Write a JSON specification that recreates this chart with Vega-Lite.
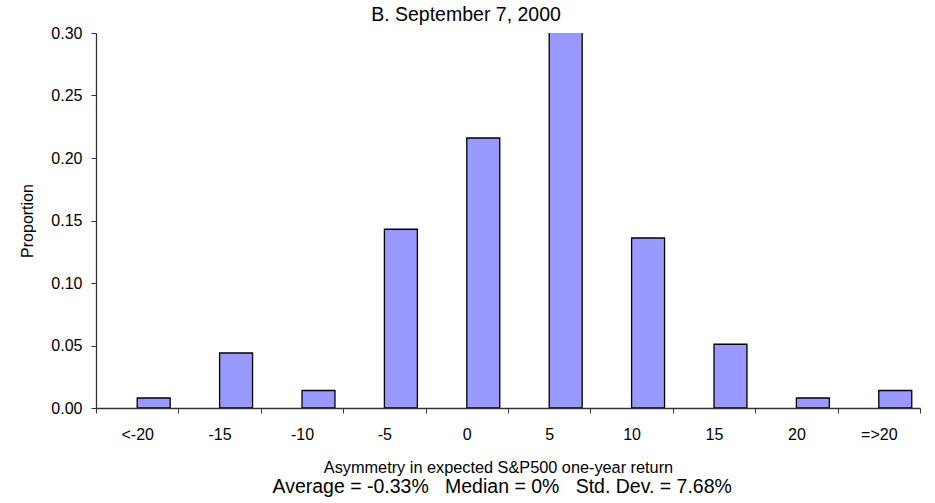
{
  "$schema": "https://vega.github.io/schema/vega-lite/v6.json",
  "background": "white",
  "padding": {"left": 19, "top": 4, "right": 10, "bottom": 4},
  "config": {
    "font": "Liberation Sans",
    "view": {"stroke": null},
    "concat": {"spacing": 0}
  },
  "title": {
    "text": "Average = -0.33%\u00a0\u00a0\u00a0Median = 0%\u00a0\u00a0\u00a0Std. Dev. = 7.68%",
    "orient": "bottom",
    "anchor": "middle",
    "fontSize": 19.5,
    "fontWeight": "normal",
    "font": "Liberation Sans",
    "color": "black",
    "dx": 32,
    "offset": 3
  },
  "vconcat": [
    {
      "width": 824,
      "height": 375,
      "title": {
        "text": "B. September 7, 2000",
        "anchor": "middle",
        "fontSize": 19.5,
        "fontWeight": "normal",
        "font": "Liberation Sans",
        "color": "black",
        "dx": -42,
        "offset": 0
      },
      "data": {
        "values": [
          {"bin": "<-20", "proportion": 0.008},
          {"bin": "-15", "proportion": 0.044},
          {"bin": "-10", "proportion": 0.014},
          {"bin": "-5", "proportion": 0.143},
          {"bin": "0", "proportion": 0.216},
          {"bin": "5", "proportion": 0.366},
          {"bin": "10", "proportion": 0.136},
          {"bin": "15", "proportion": 0.051},
          {"bin": "20", "proportion": 0.008},
          {"bin": "=>20", "proportion": 0.014}
        ]
      },
      "mark": {"type": "bar", "fill": "#9999FF", "stroke": "black", "strokeWidth": 1.3, "clip": true},
      "encoding": {
        "x": {
          "field": "bin",
          "type": "nominal",
          "sort": null,
          "scale": {"paddingInner": 0, "paddingOuter": 0},
          "axis": {
            "title": "Asymmetry in expected S&P500 one-year return",
            "titleFontSize": 16.3,
            "titleFontWeight": "normal",
            "titleColor": "black",
            "titlePadding": 17,
            "titleX": 402,
            "labelAngle": 0,
            "labelFontSize": 16,
            "labelColor": "black",
            "labelPadding": 13,
            "tickBand": "extent",
            "tickSize": 5,
            "tickColor": "#333333",
            "domainColor": "#333333",
            "domainWidth": 1.3
          }
        },
        "xOffset": {
          "datum": "b",
          "scale": {"domain": ["a", "b"], "paddingInner": 0, "paddingOuter": 0.25}
        },
        "y": {
          "field": "proportion",
          "type": "quantitative",
          "scale": {"domain": [0, 0.3], "nice": false},
          "axis": {
            "title": "Proportion",
            "titleFontSize": 16,
            "titleFontWeight": "normal",
            "titleColor": "black",
            "titlePadding": 15,
            "values": [0, 0.05, 0.1, 0.15, 0.2, 0.25, 0.3],
            "format": ".2f",
            "grid": false,
            "labelFontSize": 16,
            "labelColor": "black",
            "labelPadding": 9,
            "tickSize": 5,
            "tickColor": "#333333",
            "domainColor": "#333333",
            "domainWidth": 1.3
          }
        }
      }
    }
  ]
}
